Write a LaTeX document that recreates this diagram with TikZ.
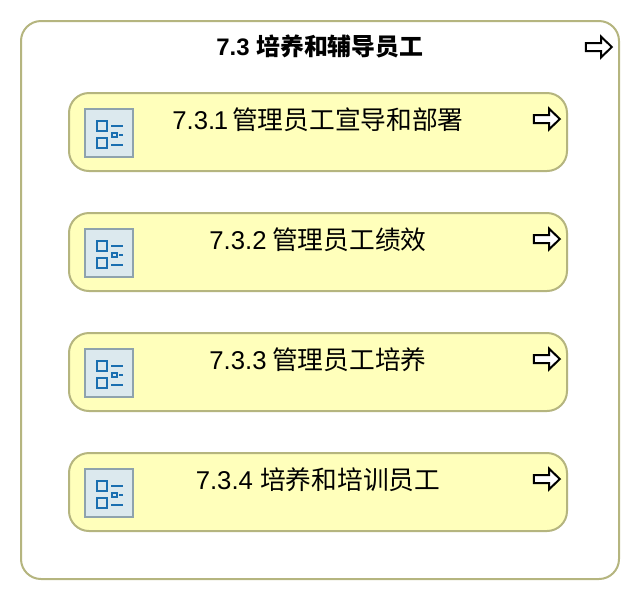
\documentclass[tikz,border=0pt]{standalone}
\usepackage{fontspec}
\setmainfont{Liberation Sans}
\newfontfamily\cjk{Noto Sans CJK SC}
\usetikzlibrary{shapes,arrows,positioning,calc}

\definecolor{boxline}{HTML}{B5B57F}
\definecolor{boxfill}{HTML}{FFFFBB}
\definecolor{iconline}{HTML}{8FA3AD}
\definecolor{iconfill}{HTML}{DCE9EE}
\definecolor{iconblue}{HTML}{1B6FB0}

\tikzset{
    groupbox/.style={rectangle, rounded corners=0.5cm, draw=boxline, fill=white, line width=0.05cm, outer sep=0, minimum width=14.95cm, minimum height=13.95cm},
    itembox/.style={rectangle, rounded corners=0.5cm, draw=boxline, fill=boxfill, line width=0.05cm, outer sep=0, minimum width=12.45cm, minimum height=1.95cm},
    iconbox/.style={rectangle, draw=iconline, fill=iconfill, line width=0.05cm, outer sep=0, inner sep=0, minimum size=1.2cm},
    grouptext/.style={font=\fontsize{17pt}{20pt}\selectfont\bfseries, inner sep=0},
    itemtext/.style={font=\fontsize{18.3pt}{22pt}\selectfont, inner sep=0},
    tasksign/.pic={
        \draw[iconblue, line width=0.05cm] (-0.31,0.3) rectangle (-0.04,0.05);
        \draw[iconblue, line width=0.05cm] (-0.31,-0.125) rectangle (-0.04,-0.375);
        \draw[iconblue, line width=0.05cm] (0.05,0.17) -- (0.34,0.17);
        \draw[iconblue, line width=0.05cm] (0.05,-0.3) -- (0.34,-0.3);
        \draw[iconblue, line width=0.05cm] (0.08,0) rectangle (0.2,-0.11);
        \draw[iconblue, line width=0.05cm] (0.26,-0.055) -- (0.34,-0.055);
    },
    nextarrow/.pic={
        \draw[black, fill=white, line width=0.05cm] (-0.33,-0.1) -- (0.05,-0.1) -- (0.05,-0.26) -- (0.32,0) -- (0.05,0.26) -- (0.05,0.1) -- (-0.33,0.1) -- cycle;
    }
}

\begin{document}
\begin{tikzpicture}[node distance=1.05cm, auto]
    \useasboundingbox (0,0) rectangle (16,-15);

    \node[groupbox] (group) at (8,-7.5) {};
    \node[grouptext, below=0.33cm of group.north] (grouplabel) {7.3 {\cjk 培养和辅导员工}};

    \node[itembox] (item1) at (7.95,-3.3) {};
    \node[itembox, below=of item1] (item2) {};
    \node[itembox, below=of item2] (item3) {};
    \node[itembox, below=of item3] (item4) {};

    % Item labels
    \node[itemtext, above=-0.01cm of item1.center] (label1) {7.3.\kern-0.06em 1\kern-0.12em{} {\cjk 管理员工宣导和部署}};
    \node[itemtext, above=-0.01cm of item2.center] (label2) {7.3.2\kern-0.06em{} {\cjk 管理员工绩效}};
    \node[itemtext, above=-0.01cm of item3.center] (label3) {7.3.3\kern-0.06em{} {\cjk 管理员工培养}};
    \node[itemtext, above=-0.01cm of item4.center] (label4) {7.3.4 {\cjk 培养和培训员工}};

    % Icons
    \node[iconbox, right=0.4cm of item1.west, yshift=-0.025cm] (icon1) {};
    \node[iconbox, right=0.4cm of item2.west, yshift=-0.025cm] (icon2) {};
    \node[iconbox, right=0.4cm of item3.west, yshift=-0.025cm] (icon3) {};
    \node[iconbox, right=0.4cm of item4.west, yshift=-0.025cm] (icon4) {};
    \pic at (icon1.center) {tasksign};
    \pic at (icon2.center) {tasksign};
    \pic at (icon3.center) {tasksign};
    \pic at (icon4.center) {tasksign};

    % Arrows
    \pic at ($(group.north east)+(-0.5,-0.65)$) {nextarrow};
    \pic at ($(item1.east)+(-0.5,0.325)$) {nextarrow};
    \pic at ($(item2.east)+(-0.5,0.325)$) {nextarrow};
    \pic at ($(item3.east)+(-0.5,0.325)$) {nextarrow};
    \pic at ($(item4.east)+(-0.5,0.325)$) {nextarrow};
\end{tikzpicture}
\end{document}
